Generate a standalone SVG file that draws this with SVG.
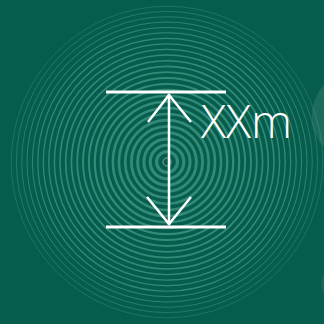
<svg xmlns="http://www.w3.org/2000/svg" width="324" height="324" viewBox="0 0 324 324">
<defs>
<style>
.ring{fill:none;stroke:#4aa58d}
.dim{stroke:#ffffff;fill:none;stroke-linecap:butt}
.lbl{font-family:"Open Sans","Liberation Sans",sans-serif;font-weight:300;font-size:46px;fill:#ffffff}
</style>
<radialGradient id="bub" cx="0.35" cy="0.5" r="0.65">
<stop offset="0" stop-color="#ffffff" stop-opacity="0.04"/>
<stop offset="0.8" stop-color="#ffffff" stop-opacity="0.12"/>
<stop offset="1" stop-color="#ffffff" stop-opacity="0.2"/>
</radialGradient>
</defs>
<rect width="324" height="324" fill="#075d4d"/>
<g id="rings">
<circle class="ring" cx="167" cy="162" r="4" stroke-width="1.5" style="stroke:#6f9a90" opacity="0.8"/>
<circle class="ring" cx="167" cy="162" r="10.4" stroke-width="3.2" opacity="0.65"/>
<circle class="ring" cx="167" cy="162" r="16.8" stroke-width="3.1" opacity="0.65"/>
<circle class="ring" cx="167" cy="162" r="23.1" stroke-width="3.0" opacity="0.65"/>
<circle class="ring" cx="167" cy="162" r="29.4" stroke-width="2.9" opacity="0.65"/>
<circle class="ring" cx="167" cy="162" r="35.6" stroke-width="2.8" opacity="0.65"/>
<circle class="ring" cx="167" cy="162" r="41.8" stroke-width="2.7" opacity="0.65"/>
<circle class="ring" cx="167" cy="162" r="48.0" stroke-width="2.6" opacity="0.65"/>
<circle class="ring" cx="167" cy="162" r="54.1" stroke-width="2.5" opacity="0.65"/>
<circle class="ring" cx="167" cy="162" r="60.2" stroke-width="2.4" opacity="0.65"/>
<circle class="ring" cx="167" cy="162" r="66.2" stroke-width="2.3" opacity="0.65"/>
<circle class="ring" cx="167" cy="162" r="72.2" stroke-width="2.2" opacity="0.65"/>
<circle class="ring" cx="167" cy="162" r="78.1" stroke-width="2.0" opacity="0.65"/>
<circle class="ring" cx="167" cy="162" r="84.0" stroke-width="1.9" opacity="0.65"/>
<circle class="ring" cx="167" cy="162" r="89.8" stroke-width="1.8" opacity="0.65"/>
<circle class="ring" cx="167" cy="162" r="95.6" stroke-width="1.7" opacity="0.65"/>
<circle class="ring" cx="167" cy="162" r="101.3" stroke-width="1.6" opacity="0.65"/>
<circle class="ring" cx="167" cy="162" r="107.0" stroke-width="1.5" opacity="0.65"/>
<circle class="ring" cx="167" cy="162" r="112.6" stroke-width="1.4" opacity="0.65"/>
<circle class="ring" cx="167" cy="162" r="118.2" stroke-width="1.3" opacity="0.65"/>
<circle class="ring" cx="167" cy="162" r="123.7" stroke-width="1.2" opacity="0.65"/>
<circle class="ring" cx="167" cy="162" r="129.2" stroke-width="1.1" opacity="0.65"/>
<circle class="ring" cx="167" cy="162" r="134.6" stroke-width="1.0" opacity="0.6"/>
<circle class="ring" cx="167" cy="162" r="140.0" stroke-width="1.0" opacity="0.55"/>
<circle class="ring" cx="167" cy="162" r="145.3" stroke-width="0.9" opacity="0.5"/>
<circle class="ring" cx="167" cy="162" r="150.6" stroke-width="0.9" opacity="0.45"/>
<circle class="ring" cx="167" cy="162" r="155.8" stroke-width="0.8" opacity="0.4"/>
</g>
<g id="bubbles">
<circle cx="358" cy="116" r="46" fill="url(#bub)"/>
<circle cx="342" cy="284" r="21" fill="url(#bub)" opacity="0.7"/>
</g>
<g id="connectors">
<line class="dim" x1="106" y1="92" x2="226" y2="92" stroke-width="3"/>
<line class="dim" x1="106" y1="227" x2="226" y2="227" stroke-width="3"/>
<line class="dim" x1="169" y1="94" x2="169" y2="225" stroke-width="2.5"/>
<polyline class="dim" points="148,122 169,95 191,122" stroke-width="2.5"/>
<polyline class="dim" points="147,197 169,224 191,197" stroke-width="2.5"/>
</g>
<g id="label">
<text class="lbl" x="201" y="138" textLength="91" lengthAdjust="spacingAndGlyphs">XXm</text>
</g>
</svg>
